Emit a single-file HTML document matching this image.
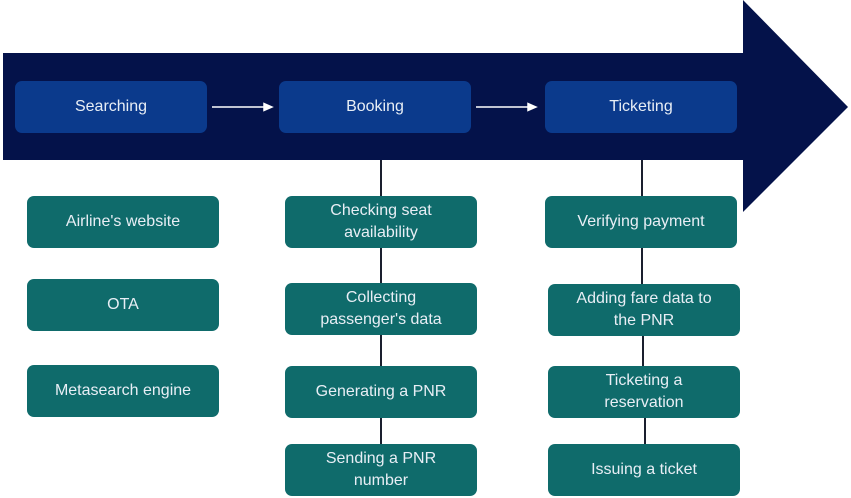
<!DOCTYPE html>
<html><head><style>
html,body{margin:0;padding:0;}
body{width:851px;height:498px;background:#fff;position:relative;overflow:hidden;font-family:"Liberation Sans","DejaVu Sans",sans-serif;font-size:16px;}
div.b{position:absolute;display:flex;align-items:center;justify-content:center;text-align:center;color:#e8eef5;font-size:16px !important;line-height:22px;border-radius:7px;}
div.blue{background:#0b3a8c;width:192px;height:52px;top:81px;}
div.teal{background:#0f6b6b;width:192px;height:52px;}
</style></head><body>
<svg width="851" height="498" style="position:absolute;left:0;top:0">
<polygon points="3,53 743,53 743,0 848,107 743,212 743,160 3,160" fill="#04124a"/>
<g stroke="#fff" stroke-width="1.5" fill="#fff">
<line x1="212" y1="107" x2="266" y2="107"/><polygon points="272,107 264,103.5 264,110.5"/>
<line x1="476" y1="107" x2="530" y2="107"/><polygon points="536,107 528,103.5 528,110.5"/>
</g>
<g stroke="#1a1f2e" stroke-width="2">
<line x1="381" y1="160" x2="381" y2="196"/><line x1="381" y1="248" x2="381" y2="283"/><line x1="381" y1="335" x2="381" y2="366"/><line x1="381" y1="418" x2="381" y2="444"/>
<line x1="642" y1="160" x2="642" y2="196"/><line x1="642" y1="248" x2="642" y2="284"/><line x1="643" y1="336" x2="643" y2="366"/><line x1="645" y1="418" x2="645" y2="444"/>
</g>
</svg>
<div class="b blue" style="left:15px;font-size:16px">Searching</div>
<div class="b blue" style="left:279px;font-size:16px">Booking</div>
<div class="b blue" style="left:545px;font-size:16px">Ticketing</div>
<div class="b teal" style="left:27px;top:196px;font-size:16px">Airline's website</div>
<div class="b teal" style="left:27px;top:279px;font-size:16px">OTA</div>
<div class="b teal" style="left:27px;top:365px;font-size:16px">Metasearch engine</div>
<div class="b teal" style="left:285px;top:196px;font-size:16px">Checking seat<br>availability</div>
<div class="b teal" style="left:285px;top:283px;font-size:16px">Collecting<br>passenger's data</div>
<div class="b teal" style="left:285px;top:366px;font-size:16px">Generating a PNR</div>
<div class="b teal" style="left:285px;top:444px;font-size:16px">Sending a PNR<br>number</div>
<div class="b teal" style="left:545px;top:196px;font-size:16px">Verifying payment</div>
<div class="b teal" style="left:548px;top:284px;font-size:16px">Adding fare data to<br>the PNR</div>
<div class="b teal" style="left:548px;top:366px;font-size:16px">Ticketing a<br>reservation</div>
<div class="b teal" style="left:548px;top:444px;font-size:16px">Issuing a ticket</div>
</body></html>
